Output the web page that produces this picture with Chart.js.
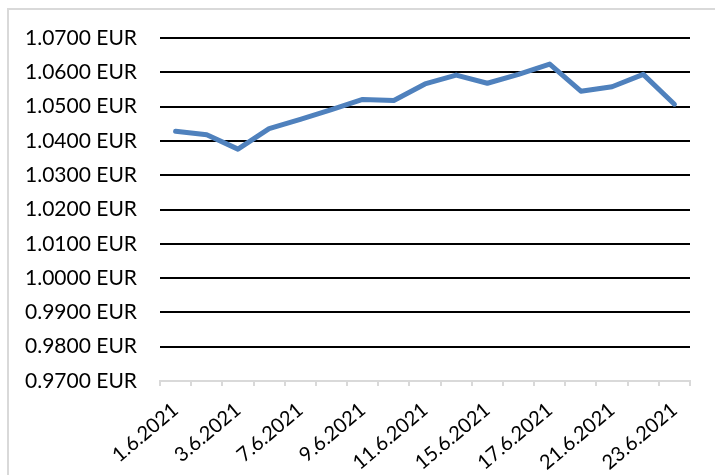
<!DOCTYPE html>
<html lang="en">
<head>
    <meta charset="UTF-8">
    <title>EUR rate June 2021</title>
    <script src="https://cdn.jsdelivr.net/npm/chart.js"></script>
    <style>
        body { margin: 0; background: #fff; }
        #wrap { width: 715px; height: 475px; position: relative; }
    </style>
</head>
<body>
    <div id="wrap"><canvas id="rateChart"></canvas></div>
    <script>
        const dates = ['1.6.2021', '2.6.2021', '3.6.2021', '4.6.2021', '7.6.2021', '8.6.2021',
            '9.6.2021', '10.6.2021', '11.6.2021', '14.6.2021', '15.6.2021', '16.6.2021',
            '17.6.2021', '18.6.2021', '21.6.2021', '22.6.2021', '23.6.2021'];
        const rates = [1.0428, 1.0418, 1.0376, 1.0436, 1.0463, 1.0491, 1.0521, 1.0518, 1.0566,
            1.0592, 1.0568, 1.0594, 1.0624, 1.0545, 1.0558, 1.0594, 1.0507];
        const yMin = 0.97;
        const yMax = 1.07;
        const yStep = 0.01;

        Chart.defaults.font.family = 'Lato';
        Chart.defaults.font.size = 21;
        Chart.defaults.color = '#000';

        // light grey frame like the office chart border
        const frame = {
            id: 'frame',
            beforeDraw(chart) {
                const c = chart.ctx;
                c.save();
                c.strokeStyle = '#d9d9d9';
                c.lineWidth = 2;
                c.strokeRect(8, 9, 760, 520);
                c.restore();
            }
        };

        new Chart(document.getElementById('rateChart'), {
            type: 'line',
            data: {
                labels: dates,
                datasets: [{
                    data: rates,
                    borderColor: '#4F81BD',
                    borderWidth: 5,
                    borderJoinStyle: 'round',
                    borderCapStyle: 'round',
                    pointRadius: 0,
                    tension: 0
                }]
            },
            options: {
                responsive: true,
                maintainAspectRatio: false,
                animation: false,
                layout: { padding: { left: 10, right: 25, top: 38, bottom: 0 } },
                plugins: { legend: { display: false }, tooltip: { enabled: false } },
                scales: {
                    x: {
                        offset: true,
                        border: { color: '#d9d9d9', width: 2 },
                        grid: {
                            offset: true,
                            drawOnChartArea: false,
                            color: '#d9d9d9',
                            lineWidth: 2,
                            tickLength: 5
                        },
                        ticks: {
                            autoSkip: false,
                            minRotation: 40,
                            maxRotation: 40,
                            padding: 12,
                            font: { size: 20 },
                            callback: (v, i) => (i % 2 === 0 ? dates[i] : '')
                        },
                        afterFit: (s) => { s.height = 94; }
                    },
                    y: {
                        min: yMin,
                        max: yMax,
                        border: { display: false },
                        grid: {
                            drawTicks: false,
                            lineWidth: 2,
                            color: (ctx) => (ctx.index === 0 ? 'rgba(0,0,0,0)' : '#000')
                        },
                        ticks: {
                            stepSize: yStep,
                            padding: 23,
                            callback: (v) => v.toFixed(4) + ' EUR'
                        },
                        afterFit: (s) => { s.width = 150; }
                    }
                }
            },
            plugins: [frame]
        });
    </script>
</body>
</html>
